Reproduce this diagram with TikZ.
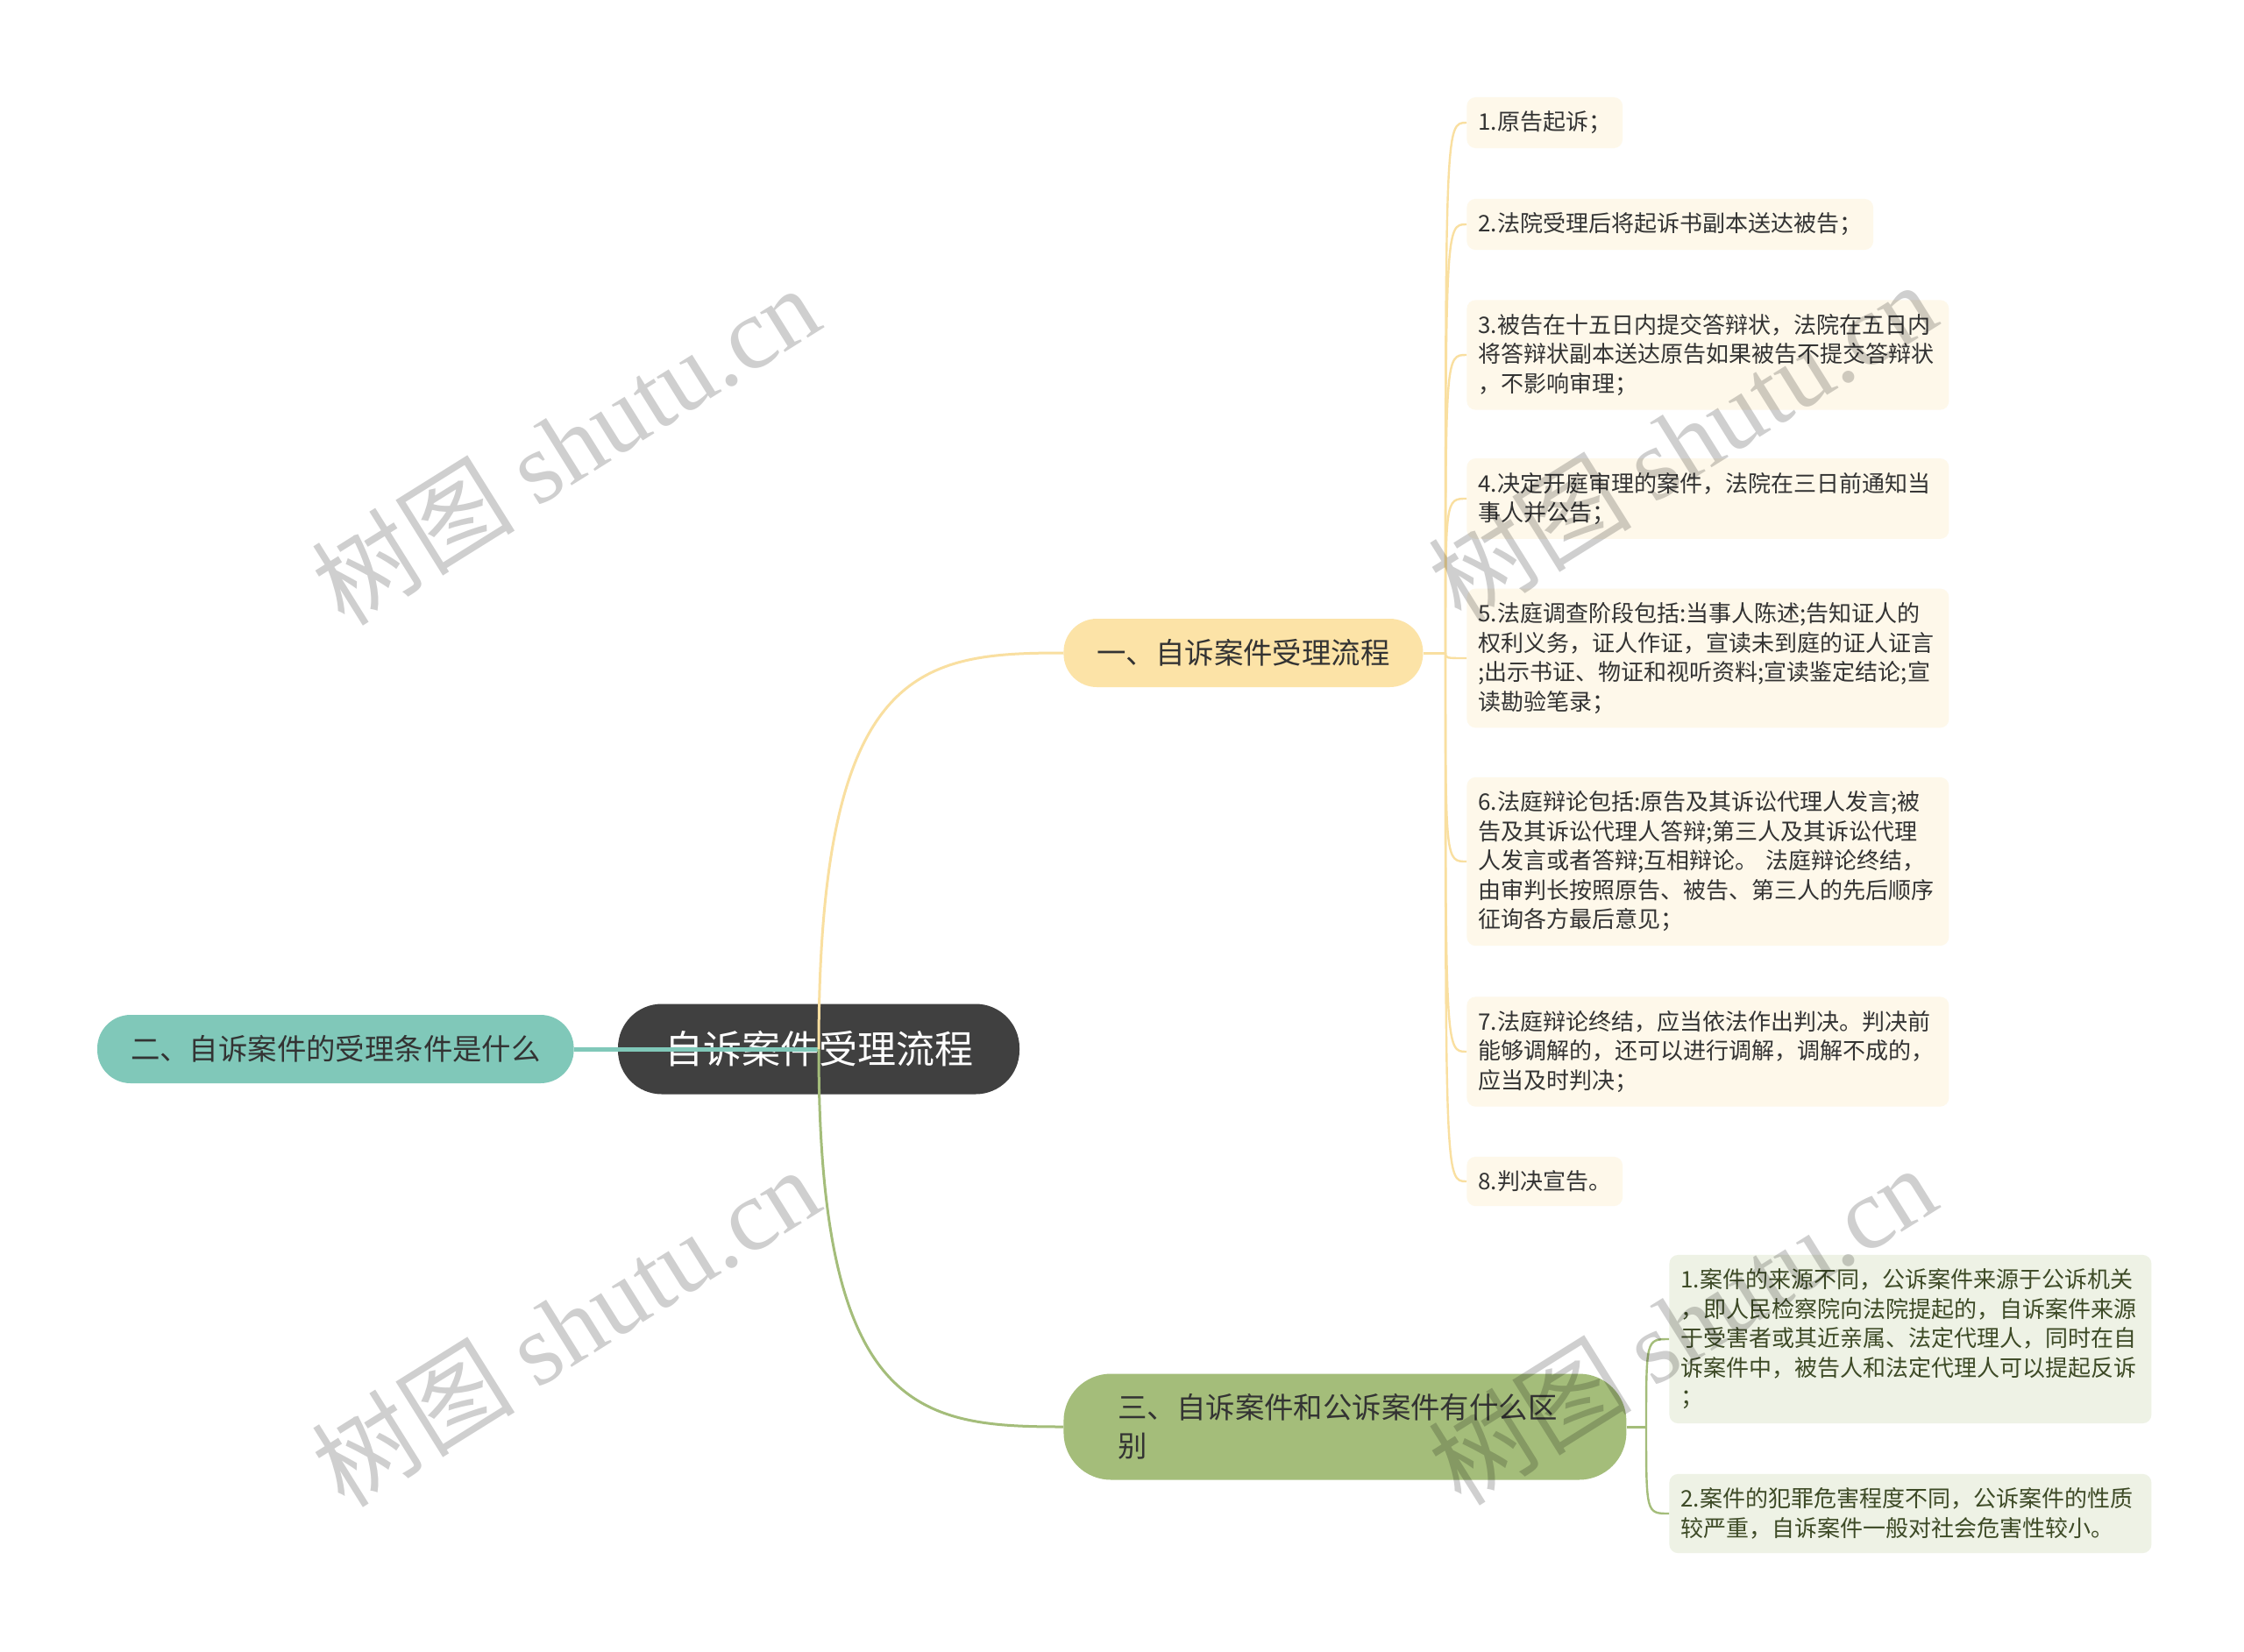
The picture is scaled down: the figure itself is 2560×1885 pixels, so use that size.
\documentclass[tikz,border=0pt]{standalone}
\usepackage{fontspec}
\setmainfont{Noto Sans CJK SC}
\newfontfamily\wmlatin{Liberation Serif}
\usetikzlibrary{calc}
\definecolor{centerfill}{HTML}{404040}
\definecolor{tealc}{HTML}{80C8B9}
\definecolor{yellowc}{HTML}{FCE3A7}
\definecolor{ylinec}{HTML}{F9DFA0}
\definecolor{greenc}{HTML}{A4BD7A}
\definecolor{yleaff}{HTML}{FEF8EA}
\definecolor{gleaff}{HTML}{EEF2E5}
\definecolor{txt}{HTML}{333333}
\definecolor{gtxt}{HTML}{3D4A26}
\begin{document}
\begin{tikzpicture}[x=0.5pt,y=-0.5pt,
  rootbox/.style={fill=centerfill, text=white, rounded corners=25pt, minimum width=229pt, minimum height=51.5pt, inner sep=0pt, font=\fontsize{22pt}{26pt}\selectfont},
  branchbox/.style={rounded corners=19pt, minimum height=39pt, inner xsep=19pt, inner ysep=4pt, font=\fontsize{16.7pt}{22pt}\selectfont, text=txt},
  leafbox/.style={rounded corners=5pt, inner xsep=6.5pt, inner ysep=8pt, anchor=west, font=\fontsize{13pt}{16.75pt}\selectfont, text=txt, align=left},
  wideleaf/.style={leafbox, text width=262pt},
  yleaf/.style={fill=yleaff},
  gleaf/.style={fill=gleaff, text=gtxt},
  yline/.style={draw=ylinec, line width=1.5pt},
  gline/.style={draw=greenc, line width=1.5pt},
  tline/.style={draw=tealc, line width=2.5pt},
  ysub/.style={draw=ylinec, line width=1.2pt},
  gsub/.style={draw=greenc, line width=1.2pt},
  wm/.style={rotate=32, text=black, text opacity=0.19, font=\fontsize{58pt}{60pt}\selectfont}
]
\fill[white] (0,0) rectangle (2560,1885);
\useasboundingbox (0,0) rectangle (2560,1885);

% central and branch nodes
\node[rootbox] (root) at (934,1197) {自诉案件受理流程};
\node[branchbox, fill=tealc, anchor=east] (b2) at (655,1197) {二、自诉案件的受理条件是什么};
\node[branchbox, fill=yellowc, anchor=west] (b1) at (1213,745) {一、自诉案件受理流程};
\node[branchbox, fill=greenc, anchor=west, align=left, text width=259pt, inner xsep=31pt, minimum height=60.5pt, rounded corners=27pt] (b3) at (1213,1628) {三、自诉案件和公诉案件有什么区\\别};

% yellow leaves
\node[leafbox, yleaf] (l1) at (1673,140) {1.原告起诉；};
\node[leafbox, yleaf] (l2) at (1673,256) {2.法院受理后将起诉书副本送达被告；};
\node[wideleaf, yleaf] (l3) at (1673,405) {3.被告在十五日内提交答辩状，法院在五日内\\将答辩状副本送达原告如果被告不提交答辩状\\，不影响审理；};
\node[wideleaf, yleaf] (l4) at (1673,569) {4.决定开庭审理的案件，法院在三日前通知当\\事人并公告；};
\node[wideleaf, yleaf] (l5) at (1673,751) {5.法庭调查阶段包括:当事人陈述;告知证人的\\权利义务，证人作证，宣读未到庭的证人证言\\;出示书证、物证和视听资料;宣读鉴定结论;宣\\读勘验笔录；};
\node[wideleaf, yleaf] (l6) at (1673,983) {6.法庭辩论包括:原告及其诉讼代理人发言;被\\告及其诉讼代理人答辩;第三人及其诉讼代理\\人发言或者答辩;互相辩论。 法庭辩论终结，\\由审判长按照原告、被告、第三人的先后顺序\\征询各方最后意见；};
\node[wideleaf, yleaf] (l7) at (1673,1200) {7.法庭辩论终结，应当依法作出判决。判决前\\能够调解的，还可以进行调解，调解不成的，\\应当及时判决；};
\node[leafbox, yleaf] (l8) at (1673,1348) {8.判决宣告。};

% green leaves
\node[wideleaf, gleaf] (g1) at (1904,1528) {1.案件的来源不同，公诉案件来源于公诉机关\\，即人民检察院向法院提起的，自诉案件来源\\于受害者或其近亲属、法定代理人，同时在自\\诉案件中，被告人和法定代理人可以提起反诉\\；};
\node[wideleaf, gleaf] (g2) at (1904,1727) {2.案件的犯罪危害程度不同，公诉案件的性质\\较严重，自诉案件一般对社会危害性较小。};

% main connectors (drawn over the central node)
\draw[tline] (root.center) -- (b2.east);
\draw[yline] (root.center) .. controls ($(root.center |- b1.west)+(0,15)$) and ($(root.center |- b1.west)!0.41!(b1.west)$) .. (b1.west);
\draw[gline] (root.center) .. controls ($(root.center |- b3.west)+(0,-15)$) and ($(root.center |- b3.west)!0.41!(b3.west)$) .. (b3.west);

% leaf connectors
\coordinate (yr) at (1649,745);
\draw[yline] (b1.east) -- (yr);
\foreach \l in {l1,l2,l3,l4,l5,l6,l7,l8}
  \draw[ysub] (yr) .. controls (yr |- \l.west) .. (\l.west);
\coordinate (gr) at (1878,1628);
\draw[gline] (b3.east) -- (gr);
\foreach \l in {g1,g2}
  \draw[gsub] (gr) .. controls (gr |- \l.west) and (gr |- \l.west) .. (\l.west);

% watermarks
\node[wm] (w1) at (645,507) {树图 {\wmlatin shutu.cn}};
\node[wm] (w2) at (645,1513) {树图 {\wmlatin shutu.cn}};
\node[wm] (w3) at (1919,503) {树图 {\wmlatin shutu.cn}};
\node[wm] (w4) at (1919,1511) {树图 {\wmlatin shutu.cn}};
\end{tikzpicture}
\end{document}
